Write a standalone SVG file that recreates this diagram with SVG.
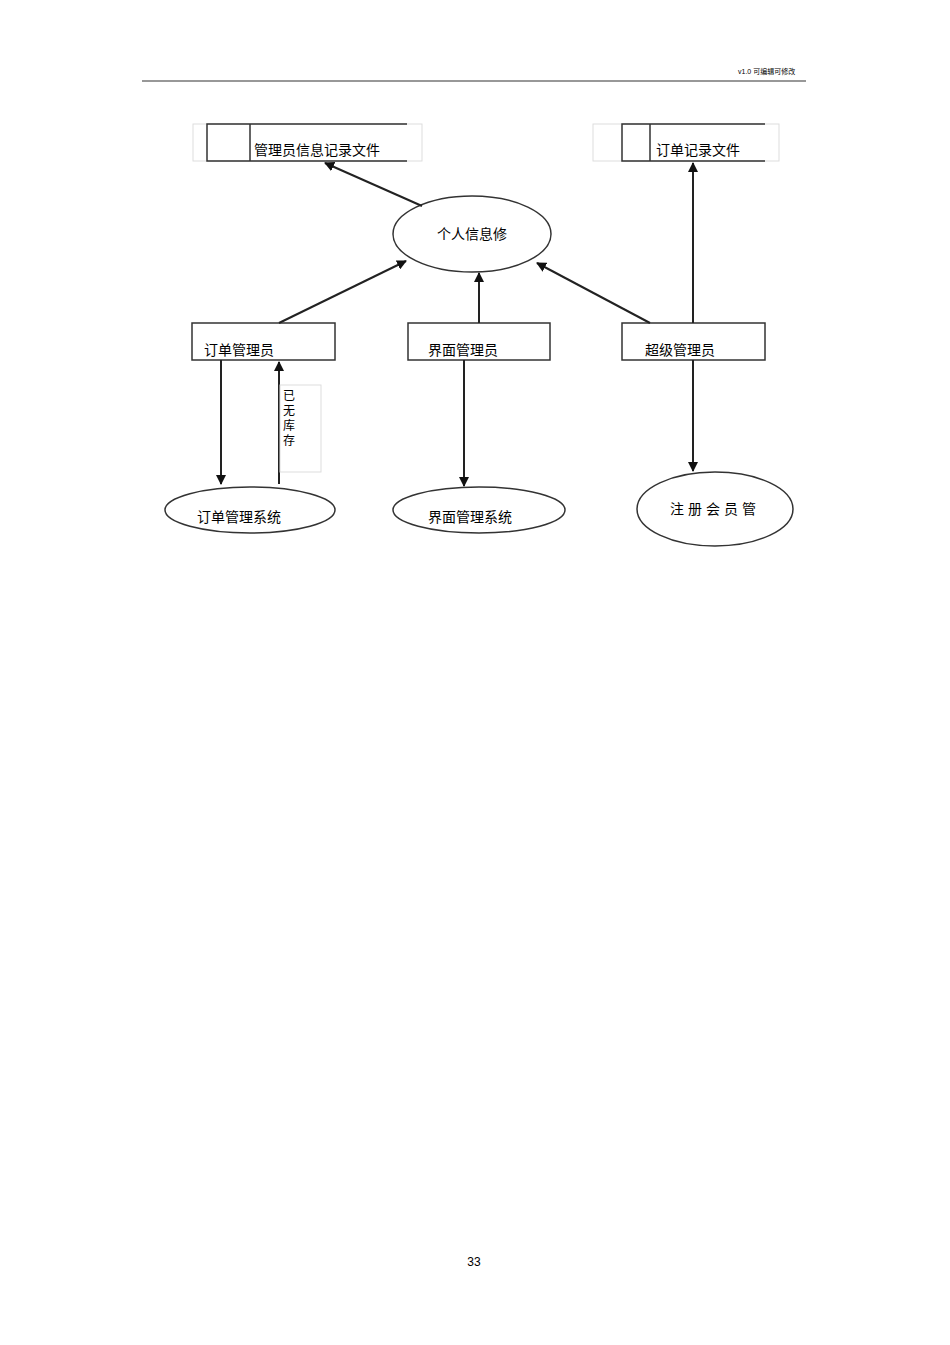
<svg xmlns="http://www.w3.org/2000/svg" width="950" height="1345" viewBox="0 0 950 1345">
<style>
text{font-family:"Liberation Sans","Noto Sans CJK SC",sans-serif;fill:#000}
.t{font-size:14px}
.n{fill:#fff;stroke:#333;stroke-width:1.5}
.c{stroke:#222;stroke-width:2;fill:none;marker-end:url(#a)}
.lt{fill:none;stroke:#ddd;stroke-width:1}
</style>
<defs><marker id="a" viewBox="0 0 10 10" refX="9" refY="5" markerWidth="5" markerHeight="5" orient="auto"><path d="M0,0L10,5L0,10z" fill="#111"/></marker></defs>
<rect width="950" height="1345" fill="#fff"/>
<line x1="142" y1="81" x2="806" y2="81" stroke="#333" stroke-width="1.2"/>
<text x="738" y="74" style="font-size:7px">v1.0 可编辑可修改</text>
<g id="store1">
<rect class="lt" x="193" y="124" width="229" height="37"/>
<path d="M407,124H207V161H407M250,124V161" fill="none" stroke="#333" stroke-width="1.5"/>
<text class="t" x="254" y="155">管理员信息记录文件</text>
</g>
<g id="store2">
<rect class="lt" x="593" y="124" width="186" height="37"/>
<path d="M765,124H622V161H765M650,124V161" fill="none" stroke="#333" stroke-width="1.5"/>
<text class="t" x="656" y="155">订单记录文件</text>
</g>
<g id="p1"><ellipse class="n" cx="472" cy="234" rx="79" ry="38"/><text class="t" x="472" y="239" text-anchor="middle">个人信息修</text></g>
<g id="r1"><rect class="n" x="192" y="323" width="143" height="37"/><text class="t" x="204" y="355">订单管理员</text></g>
<g id="r2"><rect class="n" x="408" y="323" width="142" height="37"/><text class="t" x="428" y="355">界面管理员</text></g>
<g id="r3"><rect class="n" x="622" y="323" width="143" height="37"/><text class="t" x="645" y="355">超级管理员</text></g>
<g id="e1"><ellipse class="n" cx="250" cy="510" rx="85" ry="23"/><text class="t" x="197" y="522">订单管理系统</text></g>
<g id="e2"><ellipse class="n" cx="479" cy="510" rx="86" ry="23"/><text class="t" x="428" y="522">界面管理系统</text></g>
<g id="e3"><ellipse class="n" cx="715" cy="509" rx="78" ry="37"/><text class="t" x="670" y="514" letter-spacing="4">注册会员管</text></g>
<g id="connectors">
<line class="c" x1="422" y1="206" x2="325" y2="163"/>
<line class="c" x1="279" y1="323" x2="406" y2="261"/>
<line class="c" x1="479" y1="323" x2="479" y2="273"/>
<line class="c" x1="650" y1="323" x2="537" y2="263"/>
<line class="c" x1="693" y1="323" x2="693" y2="163"/>
<line class="c" x1="221" y1="360" x2="221" y2="484"/>
<line class="c" x1="279" y1="484" x2="279" y2="362"/>
<line class="c" x1="464" y1="360" x2="464" y2="486"/>
<line class="c" x1="693" y1="360" x2="693" y2="471"/>
<rect class="lt" x="280" y="385" width="41" height="87"/>
<text style="font-size:12px" x="283" y="400">已</text>
<text style="font-size:12px" x="283" y="415">无</text>
<text style="font-size:12px" x="283" y="430">库</text>
<text style="font-size:12px" x="283" y="445">存</text>
</g>
<text x="474" y="1266" text-anchor="middle" style="font-size:12px">33</text>
</svg>
